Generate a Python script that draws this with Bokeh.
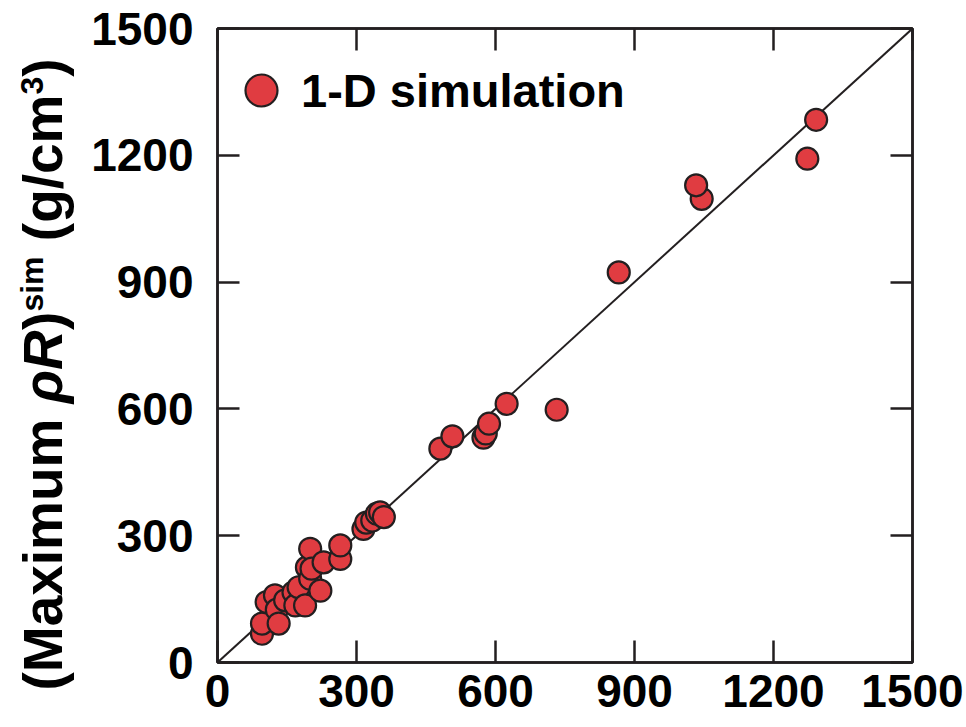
import math

from bokeh.plotting import figure
from bokeh.layouts import row
from bokeh.models import (Range1d, FixedTicker, LinearAxis, CustomJSTickFormatter,
                          Slope, Label, Legend, LegendItem, ColumnDataSource)
from bokeh.embed import file_html
from bokeh.resources import INLINE

# Maximum areal density: scaled model (x) vs 1-D simulation (y), g/cm^3
rho_r_model = [96, 96, 106, 124, 128, 132, 146, 164, 168, 175, 189, 193, 200, 200,
               203, 222, 229, 265, 265, 315, 321, 334, 344, 351, 359, 481, 507,
               574, 579, 586, 624, 732, 866, 1045, 1033, 1273, 1292]
rho_r_sim = [68, 92, 143, 159, 125, 92, 147, 166, 135, 178, 135, 225, 198, 269,
             222, 170, 237, 245, 277, 316, 331, 336, 352, 355, 344, 506, 535,
             532, 542, 565, 612, 598, 923, 1097, 1129, 1192, 1284]

tick_values = [0, 300, 600, 900, 1200, 1500]
series_label = "1-D simulation"

INK = "#231f20"
RED = "#e03c41"
W, H = 966, 727
TITLE_W = 80          # strip on the left holding the vertical axis title

p = figure(width=W - TITLE_W, height=H, output_backend="svg", toolbar_location=None,
           x_range=Range1d(0, 1500), y_range=Range1d(0, 1500),
           min_border_left=217 - TITLE_W, min_border_right=54,
           min_border_top=28, min_border_bottom=65, frame_align=False)
p.grid.visible = False
p.outline_line_color = INK
p.outline_line_width = 2.5

ticker = FixedTicker(ticks=tick_values, minor_ticks=[])
blank = CustomJSTickFormatter(code="return ''")


def style_axis(ax):
    ax.ticker = ticker
    ax.axis_line_color = INK
    ax.axis_line_width = 2.5
    ax.major_tick_line_color = INK
    ax.major_tick_line_width = 2.5
    ax.major_tick_in = 22
    ax.major_tick_out = 0
    ax.minor_tick_in = 0
    ax.minor_tick_out = 0
    ax.major_label_text_font = "Arial"
    ax.major_label_text_font_style = "bold"
    ax.major_label_text_color = "black"


for ax in p.xaxis + p.yaxis:
    style_axis(ax)

p.yaxis.major_label_text_font_size = "46px"
p.yaxis.major_label_standoff = 24
p.xaxis.major_label_text_font_size = "46px"
p.xaxis.major_label_standoff = 12

# mirrored tick marks on the top and right edges
for place in ("above", "right"):
    ax = LinearAxis()
    style_axis(ax)
    ax.formatter = blank
    ax.major_label_standoff = 0
    ax.major_label_text_font_size = "1px"
    p.add_layout(ax, place)

# 1:1 reference line
diag = Slope(gradient=1, y_intercept=0, line_color=INK, line_width=2, level="underlay")
p.add_layout(diag)

src = ColumnDataSource(data=dict(x=rho_r_model, y=rho_r_sim))
pts = p.scatter("x", "y", source=src, size=22, marker="circle",
                fill_color=RED, line_color=INK, line_width=2.2)

legend = Legend(items=[LegendItem(label=series_label, renderers=[pts])],
                location=(4, 532), glyph_width=80, glyph_height=80,
                label_standoff=0, padding=0, spacing=0, margin=0,
                border_line_color=None, background_fill_alpha=0,
                label_text_font="Liberation Sans", label_text_font_style="bold",
                label_text_font_size="47px", label_text_color="black")
p.add_layout(legend)

# vertical axis title, assembled from pieces (italic symbol, superscripts)
strip = figure(width=TITLE_W, height=H, output_backend="svg", toolbar_location=None,
               x_range=Range1d(0, TITLE_W), y_range=Range1d(0, H),
               x_axis_type=None, y_axis_type=None, min_border=0,
               outline_line_color=None, frame_align=False)
strip.grid.visible = False

F, S = 55, 32
base_x, sup_x = 42, 31
# (text, size, style, advance in em, gap after in em of F)
pieces = [
    ("(Maximum", F, "bold", 4.945, 0.278),
    ("\u03c1R", F, "bold italic", 1.333, 0.0),
    (")", F, "bold", 0.333, 0.0),
    ("sim", S, "bold", 1.723, 0.278),
    ("(g/cm", F, "bold", 2.667, 0.0),
    ("3", S, "bold", 0.556, 0.0),
    (")", F, "bold", 0.333, 0.0),
]
pos_y = 690.0
for txt, size, style, em, gap in pieces:
    bx = base_x if size == F else sup_x
    strip.add_layout(Label(x=bx, y=H - pos_y, x_units="screen", y_units="screen",
                           text=txt, angle=math.pi / 2, text_align="left",
                           text_baseline="alphabetic",
                           text_font="Liberation Sans", text_font_style=style,
                           text_font_size=f"{size}px", text_color="black"))
    pos_y -= em * size + gap * F

layout = row(strip, p)
open("out.html", "w").write(file_html(layout, INLINE))
